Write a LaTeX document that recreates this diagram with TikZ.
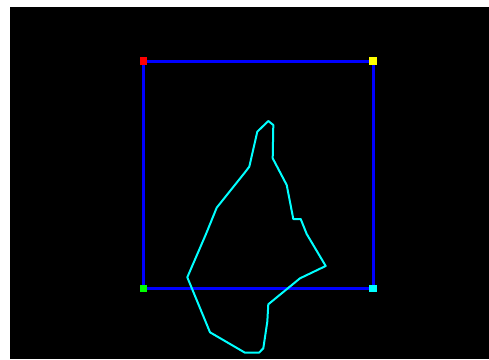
\documentclass[tikz,border=0pt]{standalone}
\definecolor{pureblue}{RGB}{0,0,255}
\definecolor{puregreen}{RGB}{0,255,0}
\definecolor{purecyan}{RGB}{0,255,255}
\definecolor{pureyellow}{RGB}{255,255,0}
\definecolor{purered}{RGB}{255,0,0}
\begin{document}
\begin{tikzpicture}[x=1pt,y=-1pt,
  corner/.style={draw=none,fill=#1,minimum size=7.5pt,inner sep=0pt,outer sep=0pt},
  frame/.style={draw=pureblue,line width=3pt},
  outline/.style={draw=purecyan,line width=2pt,line join=round}]
\useasboundingbox (0,0) rectangle (489,359);
\fill[white] (0,0) rectangle (489,359);
\fill[black] (10,7) rectangle (489,359);
\coordinate (tl) at (143.5,61);
\coordinate (tr) at (373,61);
\coordinate (bl) at (143.5,288.3);
\coordinate (br) at (373,288.3);
\draw[frame] (tl) -- (tr) -- (br) -- (bl) -- cycle;
\node[corner=purered] (ntl) at (tl) {};
\node[corner=pureyellow] (ntr) at (tr) {};
\node[corner=puregreen] (nbl) at (bl) {};
\node[corner=purecyan] (nbr) at (br) {};
\draw[outline] (268.3,121) -- (273.3,125) -- (272.7,158.3) -- (286.7,185) -- (293.3,219) -- (300.7,219) -- (306.7,234) -- (325.7,266) -- (300,278.3) -- (268.3,304.3) -- (267.3,321.7) -- (263.3,348.3) -- (259,352.7) -- (245,352.7) -- (210,332.3) -- (187.3,277.3) -- (206,234) -- (216.7,207.7) -- (245,172.3) -- (249.3,166.7) -- (257.3,131.7) -- cycle;
\end{tikzpicture}
\end{document}
